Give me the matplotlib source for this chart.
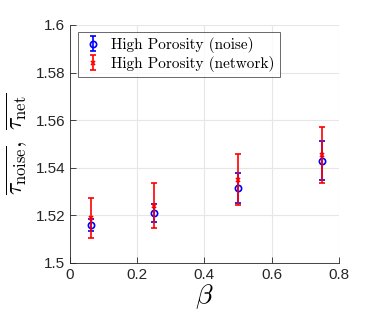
import matplotlib.pyplot as plt

# Data
beta = [0.0625, 0.25, 0.5, 0.75]
noise_mean = [1.5158, 1.5210, 1.5314, 1.5430]
noise_err = [0.0025, 0.0036, 0.0063, 0.0083]
net_mean = [1.5188, 1.5241, 1.5350, 1.5453]
net_err = [0.0084, 0.0093, 0.0108, 0.0118]


def main():
    plt.rcParams['mathtext.fontset'] = 'cm'
    fig = plt.figure(figsize=(3.74, 3.32), dpi=100)
    ax = fig.add_axes([0.187, 0.208, 0.719, 0.717])

    ax.errorbar(beta, noise_mean, yerr=noise_err, fmt='o', color='blue',
                mfc='none', ms=4.5, mew=1.2, elinewidth=1.2, capsize=2.5,
                capthick=1.2, label='High Porosity (noise)', zorder=3)
    ax.errorbar(beta, net_mean, yerr=net_err, fmt='x', color='red',
                ms=3, mew=1.2, elinewidth=1.2, capsize=2.5, capthick=1.2,
                label='High Porosity (network)', zorder=4)

    ax.set_xlim(0, 0.8)
    ax.set_ylim(1.5, 1.6)
    ax.set_xticks([0, 0.2, 0.4, 0.6, 0.8])
    ax.set_xticklabels(['0', '0.2', '0.4', '0.6', '0.8'])
    ax.set_yticks([1.5, 1.52, 1.54, 1.56, 1.58, 1.6])
    ax.set_yticklabels(['1.5', '1.52', '1.54', '1.56', '1.58', '1.6'])
    for lab in ax.get_xticklabels() + ax.get_yticklabels():
        lab.set_family('Liberation Sans')
        lab.set_fontsize(11)
        lab.set_color('#262626')
    ax.tick_params(direction='in', length=4, width=0.6, colors='#262626',
                   labelcolor='#262626')
    ax.grid(True, color='#e6e6e6', linewidth=0.8)
    ax.set_axisbelow(True)
    for side in ['top', 'right']:
        ax.spines[side].set_visible(False)
    for side in ['left', 'bottom']:
        ax.spines[side].set_color('#262626')
        ax.spines[side].set_linewidth(0.6)

    ax.set_xlabel(r'$\beta$', fontsize=20, labelpad=0)
    ax.set_ylabel(r'$\overline{\tau_{\rm noise}},\ \overline{\tau_{\rm net}}$',
                  fontsize=17, labelpad=4)

    leg = ax.legend(loc='upper left', bbox_to_anchor=(0.02, 0.985),
                    prop={'family': 'cmr10', 'size': 11}, fancybox=False,
                    handlelength=1.2, handletextpad=0.6, borderpad=0.35,
                    labelspacing=0.2, borderaxespad=0.2)
    leg.get_frame().set_edgecolor('#262626')
    leg.get_frame().set_linewidth(0.6)

    fig.savefig('out.png', dpi=100)


if __name__ == "__main__":
    main()
